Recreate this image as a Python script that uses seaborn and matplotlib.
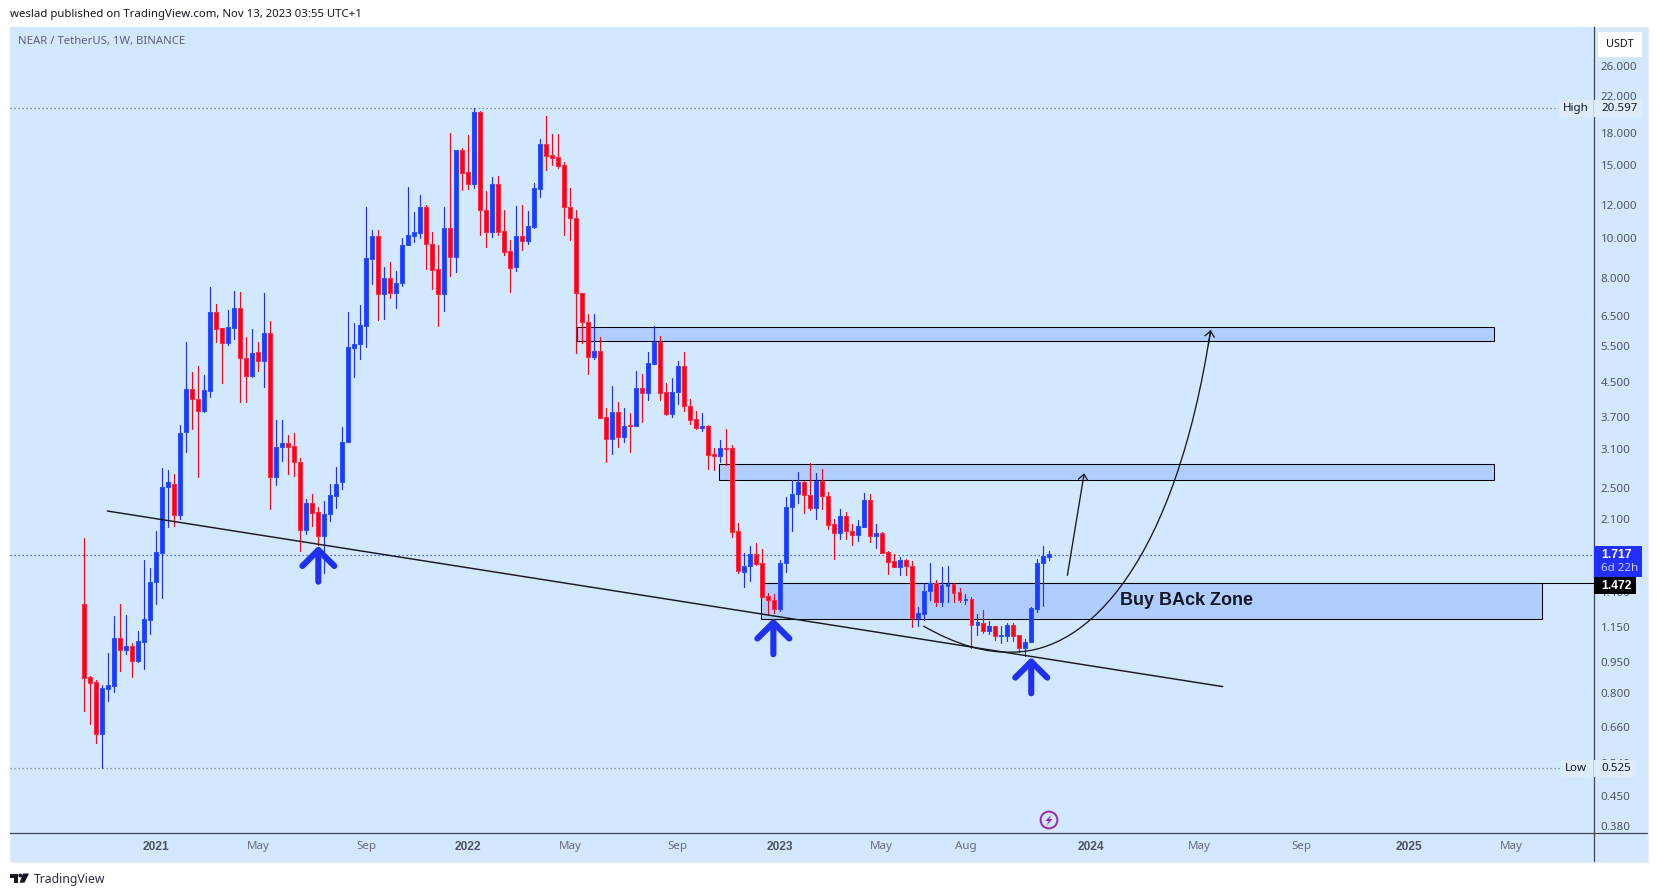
import numpy as np
import pandas as pd
import matplotlib
matplotlib.use("Agg")
import matplotlib.pyplot as plt
import seaborn as sns
from matplotlib.patches import Rectangle, Circle, Polygon, PathPatch
from matplotlib.path import Path
from matplotlib.transforms import Affine2D

# Weekly NEAR/USDT candles, first week is Oct 12 2020
HIGHS = [
    1.884, .877, .860, .834, .995, 1.224, 1.306, 1.231, 1.056, 1.127,
    1.669, 1.598, 1.964, 2.787, 2.757, 2.696, 3.536, 5.609, 4.757, 4.917,
    4.676, 7.625, 6.934, 6.057, 6.71, 7.46, 7.42, 5.767, 6.03, 5.609,
    7.375, 6.30, 3.65, 3.65, 3.345, 3.383, 2.94, 2.353, 2.408, 2.24,
    2.32, 2.55, 2.80, 3.497, 6.624, 6.23, 6.90, 11.9, 10.47, 10.47,
    8.52, 8.785, 8.33, 9.99, 13.27, 11.57, 12.72, 12.02, 10.34, 9.63,
    11.90, 18.0, 16.3, 16.5, 17.75, 20.597, 20.25, 13.0, 14.05, 14.11,
    11.73, 9.89, 11.95, 12.02, 11.62, 13.58, 17.4, 19.75, 17.83, 17.83,
    15.26, 13.2, 11.68, 7.37, 6.55, 6.55, 5.79, 3.89, 4.41, 4.02,
    3.89, 3.78, 4.77, 4.69, 5.30, 6.13, 5.82, 4.46, 4.59, 5.05,
    5.30, 4.10, 3.82, 3.78, 3.55, 3.11, 3.26, 3.46, 3.16, 2.05,
    1.735, 1.807, 1.835, 1.775, 1.392, 1.385, 1.669, 2.37, 2.61, 2.72,
    2.59, 2.86, 2.71, 2.77, 2.44, 2.10, 2.215, 2.18, 2.04, 2.09,
    2.42, 2.41, 2.04, 1.955, 1.757, 1.727, 1.70, 1.68, 1.66, 1.287,
    1.47, 1.64, 1.494, 1.607, 1.62, 1.47, 1.428, 1.382, 1.358, 1.238,
    1.266, 1.19, 1.158, 1.158, 1.178, 1.176, 1.10, 1.077, 1.289, 1.68,
    1.807, 1.757,
]
BODY_TOP = [
    1.306, .870, .846, .819, .832, 1.081, 1.081, 1.034, 1.034, 1.063,
    1.201, 1.476, 1.744, 2.504, 2.573, 2.550, 3.396, 4.317, 4.317, 4.10,
    4.293, 6.624, 6.624, 6.057, 6.09, 6.773, 6.773, 5.152, 5.27, 5.30,
    5.89, 5.89, 3.126, 3.21, 3.21, 3.143, 2.885, 2.30, 2.30, 2.18,
    2.162, 2.395, 2.55, 3.23, 5.45, 5.55, 6.16, 8.94, 10.10, 10.10,
    8.04, 8.04, 7.81, 9.61, 10.17, 10.34, 11.88, 11.88, 9.67, 8.41,
    10.57, 10.57, 16.3, 16.3, 14.43, 20.14, 20.14, 11.73, 13.5, 13.5,
    10.39, 9.30, 10.10, 10.10, 10.69, 13.2, 16.85, 16.85, 15.85, 15.67,
    14.99, 11.88, 11.18, 7.37, 6.27, 5.33, 5.33, 3.70, 3.80, 3.80,
    3.53, 3.54, 4.36, 4.36, 4.99, 5.63, 5.63, 4.25, 4.25, 4.91,
    4.91, 3.93, 3.67, 3.53, 3.53, 3.01, 3.11, 3.11, 3.11, 1.96,
    1.62, 1.727, 1.727, 1.64, 1.366, 1.338, 1.648, 2.24, 2.41, 2.573,
    2.573, 2.395, 2.59, 2.59, 2.39, 2.04, 2.14, 2.14, 1.96, 2.015,
    2.33, 2.33, 1.94, 1.94, 1.744, 1.66, 1.67, 1.67, 1.62, 1.243,
    1.405, 1.47, 1.47, 1.453, 1.463, 1.46, 1.397, 1.345, 1.343, 1.183,
    1.18, 1.156, 1.156, 1.10, 1.163, 1.163, 1.10, 1.058, 1.278, 1.64,
    1.706, 1.727,
]
BODY_BOT = [
    .868, .844, .637, .637, .817, .830, 1.015, 1.015, .954, .954,
    1.060, 1.198, 1.476, 1.740, 2.504, 2.149, 2.149, 3.407, 4.092, 3.835,
    3.835, 4.283, 6.043, 5.59, 5.59, 6.077, 5.14, 4.658, 4.658, 5.05,
    5.05, 2.654, 2.654, 3.126, 3.137, 2.88, 1.972, 1.972, 2.174, 1.912,
    1.912, 2.162, 2.39, 2.573, 3.22, 5.44, 5.56, 6.145, 8.92, 7.32,
    7.32, 7.39, 7.39, 7.79, 9.61, 10.14, 10.32, 9.67, 8.39, 7.35,
    7.35, 9.02, 9.02, 14.4, 13.55, 13.55, 11.72, 10.37, 10.37, 10.37,
    9.28, 8.49, 8.53, 9.87, 9.87, 10.66, 13.17, 15.82, 15.64, 14.98,
    11.88, 11.18, 7.37, 6.27, 5.17, 5.17, 3.69, 3.28, 3.28, 3.32,
    3.32, 3.52, 3.52, 4.24, 4.24, 4.98, 4.24, 3.77, 3.77, 4.25,
    3.93, 3.65, 3.49, 3.49, 3.0, 2.98, 2.98, 3.10, 1.955, 1.575,
    1.566, 1.617, 1.636, 1.363, 1.335, 1.275, 1.275, 1.645, 2.25, 2.41,
    2.395, 2.235, 2.235, 2.38, 2.03, 1.945, 1.945, 1.96, 1.925, 1.925,
    2.01, 1.91, 1.91, 1.74, 1.655, 1.61, 1.61, 1.617, 1.213, 1.213,
    1.24, 1.405, 1.325, 1.325, 1.449, 1.394, 1.34, 1.338, 1.167, 1.167,
    1.129, 1.127, 1.097, 1.095, 1.097, 1.097, 1.026, 1.026, 1.058, 1.275,
    1.64, 1.70,
]
LOWS = [
    .723, .673, .605, .525, .764, .802, .903, .991, .873, .947,
    .914, 1.110, 1.312, 1.354, 2.011, 2.022, 2.100, 3.051, 3.46, 2.654,
    3.814, 4.14, 5.618, 4.475, 5.52, 5.707, 4.027, 4.027, 4.63, 4.79,
    4.38, 2.223, 2.54, 2.90, 2.70, 2.67, 1.76, 1.934, 2.022, 1.816,
    1.557, 2.08, 2.235, 2.485, 3.22, 4.63, 5.12, 5.47, 7.76, 6.36,
    6.39, 7.19, 6.80, 7.67, 9.61, 9.79, 9.99, 8.44, 7.54, 6.145,
    6.68, 8.12, 8.30, 13.10, 13.17, 13.25, 10.17, 9.54, 10.08, 10.2,
    9.12, 7.43, 8.35, 9.39, 9.66, 10.6, 12.6, 14.65, 15.03, 14.8,
    10.17, 9.93, 5.29, 5.59, 4.71, 5.12, 3.69, 2.88, 3.02, 3.137,
    3.22, 3.05, 3.52, 3.60, 4.06, 4.98, 4.06, 3.75, 3.71, 3.99,
    3.835, 3.57, 3.47, 3.43, 2.78, 2.75, 2.89, 2.83, 1.90, 1.557,
    1.44, 1.49, 1.627, 1.363, 1.238, 1.247, 1.261, 1.566, 1.967, 2.29,
    2.174, 2.21, 2.10, 2.215, 1.99, 1.685, 1.88, 1.88, 1.82, 1.86,
    2.01, 1.85, 1.79, 1.74, 1.55, 1.61, 1.54, 1.54, 1.153, 1.16,
    1.20, 1.34, 1.295, 1.295, 1.325, 1.325, 1.325, 1.31, 1.026, 1.10,
    1.116, 1.108, 1.07, 1.053, 1.067, 1.067, 1.0, .98, 1.058, 1.252,
    1.297, 1.67,
]
# u = up week (blue), d = down week (red)
DIRECTION = (
    "ddduuududu" "uuuuuduudd" "uudduuddud" "uduudddudd" "uuuuuuuuud"
    "uduuuuuddd" "ududduddud" "dduduuuddd" "ddddduddud" "ududuudduu"
    "dddudduddd" "uudddduuuu" "dduddduddu" "ududdduddu" "uuduuddudu"
    "duduudduuu" "uu"
)

PRICE_TICKS = [26, 22, 18, 15, 12, 10, 8, 6.5, 5.5, 4.5, 3.7, 3.1, 2.5, 2.1,
               1.4, 1.15, .95, .8, .66, .54, .45, .38]
TIME_TICKS = [12, 29, 47, 64, 81, 99, 116, 133, 147, 168, 186, 203, 221, 238]
TIME_LABELS = ["2021", "May", "Sep", "2022", "May", "Sep", "2023", "May",
               "Aug", "2024", "May", "Sep", "2025", "May"]

HIGH_PRICE = 20.597
LOW_PRICE = 0.525
LAST_PRICE = 1.717
LINE_PRICE = 1.472

# drawn zones: week from, week to, price low, price high
ZONES = [
    (82.15, 235.1, 5.664, 6.095),
    (105.9, 235.1, 2.604, 2.846),
    (112.95, 243.1, 1.202, 1.472),
]
TREND_WEEKS = [3.84, 189.9]
TREND_PRICES = [2.195, 0.827]
ARROW_TIPS = [(39.04, 1.810), (114.95, 1.209), (157.97, 0.973)]

BG = "#D1E8FF"
BLUE = "#1B3BFF"
RED = "#FF0014"
BOLD_FONT = "Liberation Sans"  # Noto Sans has no bold face here
W, H = 1657, 896

sns.set_theme(style="white")
plt.rcParams["font.family"] = ["Noto Sans", "DejaVu Sans"]

candles = pd.DataFrame({
    "week": np.arange(len(HIGHS)), "high": HIGHS, "low": LOWS,
    "top": BODY_TOP, "bot": BODY_BOT, "direction": list(DIRECTION),
})
wicks = candles.melt(id_vars=["week", "direction"], value_vars=["high", "low"],
                     value_name="price").sort_values(["week", "price"])

fig = plt.figure(figsize=(W / 100, H / 100), dpi=100, facecolor="white")
px = Affine2D().scale(1, -1).translate(0, H)  # figure drawing in image pixels

ax = fig.add_axes([10 / W, 1 - 833 / H, (1593.7 - 10) / W, (833 - 27) / H], facecolor=BG)
ax.set_yscale("log")

# zones sit under the candles
for w0, w1, p0, p1 in ZONES:
    ax.add_patch(Rectangle((w0, p0), w1 - w0, p1 - p0, facecolor="#AFCDFF",
                           edgecolor="black", lw=0.75, zorder=1))
ax.axhline(LINE_PRICE, xmin=(112.95 + 12.4) / 264.2, color="black", lw=0.75, zorder=1.1)

ax.axhline(HIGH_PRICE, color="#787B86", lw=0.9, ls=(0, (1, 2.2)), zorder=1)
ax.axhline(LOW_PRICE, color="#787B86", lw=0.9, ls=(0, (1, 2.2)), zorder=1)
ax.axhline(LAST_PRICE, color="#2130FF", lw=0.9, ls=(0, (1, 2.2)), zorder=1.2)

sns.lineplot(data=wicks, x="week", y="price", hue="direction", units="week",
             estimator=None, sort=False, palette={"u": "#1F2FFF", "d": RED},
             legend=False, lw=0.85, ax=ax, zorder=2)

colors = [BLUE if d == "u" else RED for d in candles["direction"]]
edges = ["#2A50FF" if d == "u" else "#FF2A44" for d in candles["direction"]]
ax.bar(candles["week"], candles["top"] - candles["bot"], bottom=candles["bot"], width=0.66,
       color=colors, edgecolor=edges, linewidth=0.75, zorder=3)

# hand drawn lines
sns.lineplot(x=TREND_WEEKS, y=TREND_PRICES, color="#1A1A1A", lw=1.05, ax=ax, zorder=4)

curve = Path([(139.97, 1.158), (148.1, 0.991), (154.9, 1.002),
              (167.7, 1.002), (182.0, 1.672), (187.9, 6.004)],
             [Path.MOVETO, Path.CURVE3, Path.CURVE3, Path.CURVE4, Path.CURVE4, Path.CURVE4])
ax.add_patch(PathPatch(curve, facecolor="none", edgecolor="#1A1A1A", lw=0.95, zorder=4))

thin_head = dict(arrowstyle="->,head_length=4,head_width=3.4", color="#1A1A1A", lw=0.95,
                 shrinkA=0, shrinkB=0, mutation_scale=1)
ax.annotate("", xy=(187.9, 6.004), xytext=(187.5, 5.52), arrowprops=thin_head, zorder=4)
ax.annotate("", xy=(166.8, 2.707), xytext=(164.0, 1.535), arrowprops=thin_head, zorder=4)

for tip in ARROW_TIPS:
    ax.annotate("", xy=tip, xytext=(0, -36), textcoords="offset pixels", zorder=5,
                arrowprops=dict(arrowstyle="->,head_length=11.5,head_width=11.5", color="#2030F0",
                                lw=4.4, shrinkA=0, shrinkB=0, mutation_scale=1))

ax.text(172.7, 1.338, "Buy BAck Zone", fontsize=13, fontweight="bold", color="#131722",
        family=BOLD_FONT, va="center", ha="left", zorder=5)

ax.set_xlim(-12.4, 251.8)
ax.set_ylim(0.3664, 32.37)
ax.set_xlabel("")
ax.set_ylabel("")
ax.yaxis.tick_right()
ax.set_yticks(PRICE_TICKS)
ax.set_yticklabels([f"{p:.3f}" for p in PRICE_TICKS])
ax.minorticks_off()
ax.tick_params(axis="y", length=0, pad=5, labelsize=8.3, labelcolor="#50535E")
ax.set_xticks(TIME_TICKS)
ax.set_xticklabels(TIME_LABELS)
ax.tick_params(axis="x", length=0, pad=6, labelsize=8.3, labelcolor="#6A6D78")
for lab in ax.get_xticklabels():
    if lab.get_text().isdigit():
        lab.set_family(BOLD_FONT)
        lab.set_fontweight("bold")
        lab.set_fontsize(8.6)
        lab.set_color("#50535E")
for side in ["left", "top"]:
    ax.spines[side].set_visible(False)
for side in ["right", "bottom"]:
    ax.spines[side].set_color("#434651")
    ax.spines[side].set_linewidth(0.9)


def box(x0, y0, x1, y1, color, **kw):
    fig.add_artist(Rectangle((x0, y0), x1 - x0, y1 - y0, facecolor=color, edgecolor="none",
                             transform=px, zorder=kw.pop("zorder", 3), **kw))


def label(x, y, s, **kw):
    kw.setdefault("fontsize", 8.3)
    kw.setdefault("color", "#131722")
    kw.setdefault("va", "center")
    fig.text(x, y, s, transform=px, zorder=4, **kw)


# panel behind everything, plus the axis lines below the plot
fig.add_artist(Rectangle((9.5, 26.5), 1638, 835, facecolor=BG, edgecolor="#E8EEF5", lw=1,
                         transform=px, zorder=-1))
fig.add_artist(plt.Line2D([1593.7, 1593.7], [833, 861], color="#434651", lw=0.9, transform=px))
fig.add_artist(plt.Line2D([1593.7, 1647], [833, 833], color="#434651", lw=0.9, transform=px))

label(10, 14.5, "weslad published on TradingView.com, Nov 13, 2023 03:55 UTC+1", fontsize=8.2)
label(18, 41.5, "NEAR / TetherUS, 1W, BINANCE", fontsize=8.15, color="#5D606B")

# USDT button
box(1598, 32, 1642, 56.5, "white")
label(1620, 44.5, "USDT", ha="center", fontsize=7.8)

# high / low / last price tags
box(1559, 100, 1593, 117, "#DDEBFB")
box(1594.3, 100, 1642, 117, "#DDEBFB")
label(1563, 108.3, "High")
label(1601, 108.3, f"{HIGH_PRICE:.3f}")
box(1561, 760, 1593, 777, "#DDEBFB")
box(1594.3, 760, 1636, 777, "#DDEBFB")
label(1565, 768.3, "Low")
label(1601, 768.3, f"{LOW_PRICE:.3f}")
box(1593.5, 546, 1642, 577, "#2130FF")
label(1601, 554.5, f"{LAST_PRICE:.3f}", color="white", fontweight="bold", family=BOLD_FONT, fontsize=8.7)
label(1601, 568, "6d 22h", color="#C8CEFF")
box(1593.5, 577, 1636, 593.7, "black")
label(1601, 585.5, f"{LINE_PRICE:.3f}", color="white", fontweight="bold", family=BOLD_FONT, fontsize=8.7)

# lightning badge on the time axis
fig.add_artist(Circle((1049, 820), 8.4, facecolor="none", edgecolor="#9C27B0", lw=1.4,
                      transform=px, zorder=3))
fig.add_artist(Polygon([(1051.5, 814.5), (1045.5, 821), (1048.7, 821), (1046.5, 825.7),
                        (1052.5, 819), (1049.3, 819)], closed=True, facecolor="#9C27B0",
                       edgecolor="none", transform=px, zorder=3))

# TradingView mark bottom left
logo = "#131722"
fig.add_artist(Polygon([(10, 873.5), (18, 873.5), (18, 882.7), (14, 882.7), (14, 877.5), (10, 877.5)],
                       closed=True, facecolor=logo, edgecolor="none", transform=px))
fig.add_artist(Circle((20.3, 875.5), 1.9, facecolor=logo, edgecolor="none", transform=px))
fig.add_artist(Polygon([(23, 873.5), (29, 873.5), (24.5, 882.7), (19.5, 882.7)],
                       closed=True, facecolor=logo, edgecolor="none", transform=px))
label(33.5, 879, "TradingView", fontsize=8.8, color="#2A2E39")

fig.savefig("out.png", dpi=100)
